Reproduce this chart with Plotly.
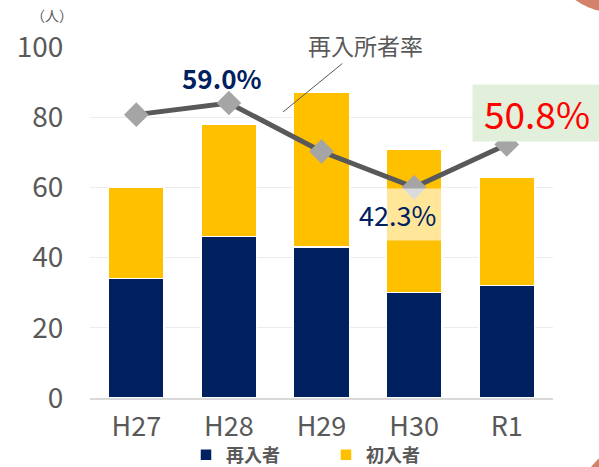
import plotly.graph_objects as go

# values
years = ['H27', 'H28', 'H29', 'H30', 'R1']
repeat_people = [34, 46, 43, 30, 32]   # 再入者
first_people = [26, 32, 44, 41, 31]    # 初入者
repeat_rate = [56.7, 59.0, 49.4, 42.3, 50.8]  # 再入所者率 (%)
y_ticks = [0, 20, 40, 60, 80, 100]

W, H = 599, 467
L, R, T, B = 90, 46, 47, 69
FONT = 'Noto Sans CJK JP'
GREY = '#595959'


# pixel -> paper helpers for the callouts and corner decorations
def px(x):
    return (x - L) / (W - L - R)


def py(y):
    return (H - B - y) / (H - T - B)


fig = go.Figure()
fig.add_trace(go.Bar(x=years, y=repeat_people, name='<b>再入者</b>', marker_color='#002060',
                     marker_line=dict(color='white', width=1.5)))
fig.add_trace(go.Bar(x=years, y=first_people, name='<b>初入者</b>', marker_color='#FFC000',
                     marker_line=dict(color='white', width=1.5)))
fig.add_trace(go.Scatter(x=years, y=repeat_rate, yaxis='y2', mode='lines+markers', showlegend=False,
                         line=dict(color='#595959', width=5),
                         marker=dict(symbol='diamond', size=19, color='#A5A5A5')))

fig.update_layout(
    width=W, height=H,
    margin=dict(l=L, r=R, t=T, b=B, autoexpand=False),
    barmode='stack', bargap=0.4,
    plot_bgcolor='white', paper_bgcolor='white',
    font=dict(family=FONT, color=GREY),
    xaxis=dict(tickfont=dict(size=27, color=GREY), showline=True, linecolor='#D9D9D9', linewidth=2,
               ticks='outside', ticklen=4, tickcolor='rgba(0,0,0,0)', automargin=False),
    yaxis=dict(range=[0, 100], tickvals=y_ticks, tickfont=dict(size=28, color=GREY),
               showgrid=True, gridcolor='#EDEDED', gridwidth=1, zeroline=False,
               ticks='outside', ticklen=20, tickcolor='rgba(0,0,0,0)', automargin=False),
    yaxis2=dict(range=[0.55, 70.1], overlaying='y', visible=False),
    legend=dict(orientation='h', x=px(186), xanchor='left', y=py(455), yanchor='middle',
                font=dict(size=18, color=GREY, family=FONT),
                traceorder='normal', entrywidthmode='pixels', entrywidth=95),
    showlegend=True,
)

# corner decorations
fig.add_shape(type='circle', xref='paper', yref='paper', x0=px(550), x1=px(674), y0=py(12), y1=py(-112),
              fillcolor='#D4826A', line_width=0, layer='above')
fig.add_shape(type='circle', xref='paper', yref='paper', x0=px(578), x1=px(702), y0=py(567), y1=py(443),
              fillcolor='#D4826A', line_width=0, layer='above')

labels = [
    dict(x=52, y=15, text='（人）', size=14, color=GREY),
    dict(x=222, y=77, text='<b>59.0%</b>', size=26, color='#002060'),
    dict(x=397, y=214, text='42.3%', size=27, color='#002060', bgcolor='rgba(255,255,255,0.6)', pad=6),
    dict(x=537, y=113, text='50.8%', size=37, color='#FF0000', bgcolor='#E2EFDA', pad=0,
         width=128, height=56),
]
for a in labels:
    fig.add_annotation(xref='paper', yref='paper', x=px(a['x']), y=py(a['y']), text=a['text'],
                       xanchor='center', yanchor='middle', showarrow=False,
                       font=dict(size=a['size'], color=a['color']),
                       width=a.get('width'), height=a.get('height'),
                       bgcolor=a.get('bgcolor', 'rgba(0,0,0,0)'), borderpad=a.get('pad', 1))

fig.add_annotation(xref='paper', yref='paper', x=px(283), y=py(112), ax=82, ay=-67,
                   text='再入所者率', showarrow=True, arrowhead=0,
                   arrowwidth=1, arrowcolor=GREY, standoff=0,
                   font=dict(size=23, color=GREY))

# the page's default body margin would shift the chart by 8px
fig.write_html('out.html', config={'displayModeBar': False},
               post_script="document.body.style.margin='0';")
